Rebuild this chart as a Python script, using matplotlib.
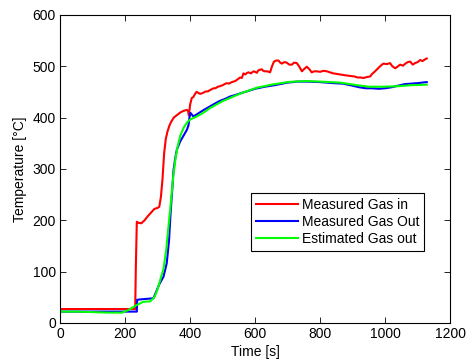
import matplotlib.pyplot as plt

# Gas temperatures over time
t_in = [0, 231, 233, 236, 240, 250, 260, 270, 280, 290, 300, 305, 310, 315, 320, 325,
        330, 336, 342, 350, 360, 370, 380, 390, 394, 396, 400, 405, 410, 415, 420,
        425, 431, 440, 445, 450, 455, 460, 466, 472, 478, 485, 492, 500, 506, 513, 519,
        525, 533, 539, 545, 554, 559, 564, 570, 575, 580, 587, 595, 600, 605, 610, 615,
        620, 625, 630, 638, 646, 652, 658, 665, 672, 677, 682, 690, 697, 705, 713,
        720, 728, 735, 744, 750, 759, 767, 774, 782, 790, 800, 810, 821, 830, 840, 851,
        860, 870, 880, 892, 905, 915, 925, 933, 945, 954, 960, 969, 980, 990, 995, 1005,
        1015, 1022, 1031, 1038, 1046, 1055, 1062, 1070, 1077, 1085, 1092, 1100, 1108,
        1115, 1122, 1128]
gas_in = [27, 27, 110, 197, 195, 194, 200, 208, 215, 222, 224, 226, 245, 280, 330, 358,
          372, 384, 392, 400, 405, 410, 413, 415, 412, 404, 425, 438, 440, 446, 450,
          448, 446, 448, 450, 451, 451, 453, 455, 457, 457, 460, 461, 463, 465, 467, 466,
          468, 470, 471, 474, 478, 477, 486, 484, 487, 488, 486, 490, 489, 487, 492, 493,
          494, 491, 490, 490, 488, 500, 509, 511, 511, 507, 505, 508, 507, 503, 503,
          507, 506, 500, 490, 494, 499, 494, 488, 490, 490, 489, 491, 490, 488, 486, 485,
          484, 483, 482, 481, 480, 478, 478, 477, 479, 480, 485, 490, 497, 503, 505, 504,
          506, 500, 496, 499, 503, 501, 505, 508, 509, 503, 506, 508, 512,
          510, 513, 515]

t_out = [0, 236, 237, 250, 270, 287, 295, 305, 318, 328, 335, 340, 345, 349, 354, 359,
         369, 380, 390, 395, 398, 401, 405, 410, 415, 425, 440, 451, 470, 490, 510, 523,
         540, 554, 575, 600, 630, 660, 700, 730, 760, 800, 840, 870, 900, 920, 940, 960,
         980, 1000, 1020, 1040, 1060, 1080, 1100, 1128]
gas_out = [22, 22, 45, 46, 47, 48, 60, 75, 90, 116, 160, 215, 260, 298, 320, 337,
           353, 365, 376, 385, 400, 409, 406, 402, 404, 408, 414, 418, 425, 432, 437, 441,
           444, 447, 451, 456, 460, 463, 468, 470, 470, 469, 467, 466, 462, 459, 457, 457,
           456, 457, 459, 462, 465, 466, 467, 469]

t_est = [0, 50, 100, 150, 190, 210, 236, 256, 277, 290, 300, 310, 318, 326, 333, 340,
         348, 355, 362, 370, 380, 390, 400, 420, 440, 460, 480, 500, 533, 560, 605, 650,
         700, 718, 760, 800, 862, 913, 950, 995, 1040, 1080, 1128]
gas_est = [22, 22, 21, 20, 20, 25, 35, 41, 42, 50, 66, 88, 105, 140, 185, 230,
           285, 320, 345, 365, 380, 390, 396, 402, 409, 418, 425, 432, 441, 448, 458, 464,
           469, 470, 471, 470, 468, 463, 460, 460, 461, 463, 464]

plt.rcParams['font.family'] = ['Liberation Sans', 'DejaVu Sans']
plt.rcParams['font.size'] = 10

fig = plt.figure(figsize=(4.66, 3.62), dpi=100)
ax = fig.add_axes([0.129, 0.108, 0.837, 0.851])

ax.plot(t_in, gas_in, color=(1, 0, 0), lw=1.5, label='Measured Gas in')
ax.plot(t_out, gas_out, color=(0, 0, 1), lw=1.5, label='Measured Gas Out')
ax.plot(t_est, gas_est, color=(0, 1, 0), lw=1.5, label='Estimated Gas out')

ax.set_xlim(0, 1200)
ax.set_ylim(0, 600)
ax.set_xticks(range(0, 1201, 200))
ax.set_yticks(range(0, 601, 100))
ax.tick_params(direction='in', top=True, right=True, length=4, width=0.6, pad=3)
for s in ax.spines.values():
    s.set_linewidth(0.8)
ax.set_xlabel('Time [s]', labelpad=3)
ax.set_ylabel('Temperature [°C]', labelpad=4)

leg = ax.legend(loc='upper left', bbox_to_anchor=(0.49, 0.422), frameon=True,
                fancybox=False, edgecolor='black', framealpha=1, handlelength=3.0,
                handletextpad=0.3, borderpad=0.35, labelspacing=0.22, borderaxespad=0)
leg.get_frame().set_linewidth(0.8)

fig.savefig('out.png', dpi=100)
